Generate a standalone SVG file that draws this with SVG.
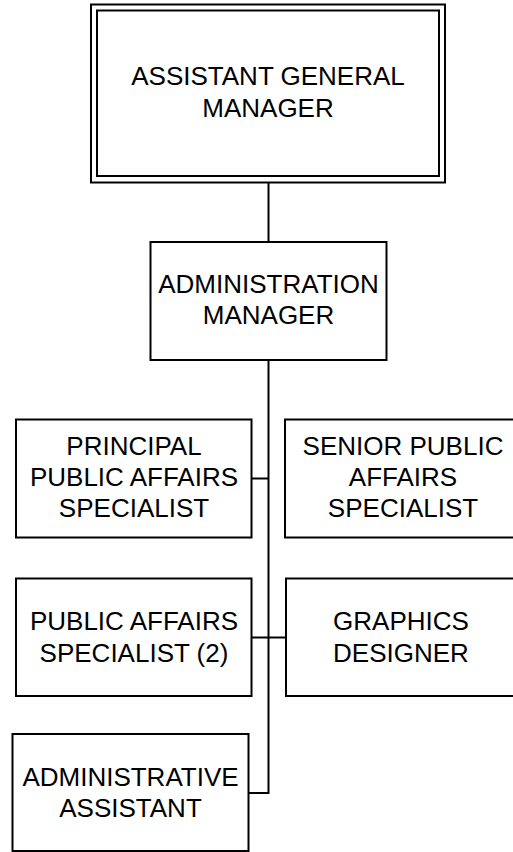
<svg xmlns="http://www.w3.org/2000/svg" width="513" height="852" viewBox="0 0 513 852">
<style>
.box{fill:#fff;stroke:#000;stroke-width:2}
.t{font-family:"Liberation Sans",Arial,sans-serif;font-size:26px;fill:#000;text-anchor:middle}
.c{fill:none;stroke:#000;stroke-width:2}
</style>
<rect width="513" height="852" fill="#fff"/>
<g id="connectors">
<line class="c" x1="268.5" y1="183" x2="268.5" y2="242"/>
<polyline class="c" points="268.5,360 268.5,793 248.5,793"/>
<line class="c" x1="251.5" y1="478.5" x2="268.5" y2="478.5"/>
<line class="c" x1="251.5" y1="637.5" x2="286" y2="637.5"/>
</g>
<g id="agm">
<rect class="box" x="91" y="4.5" width="354" height="178"/>
<rect class="box" x="97" y="10.5" width="342" height="165.5"/>
<text class="t" x="268" y="85">ASSISTANT GENERAL</text>
<text class="t" x="268" y="117">MANAGER</text>
</g>
<g id="adminmgr">
<rect class="box" x="150.5" y="242" width="236" height="118"/>
<text class="t" x="268.5" y="293">ADMINISTRATION</text>
<text class="t" x="268.5" y="324">MANAGER</text>
</g>
<g id="principal">
<rect class="box" x="16" y="419.5" width="235.5" height="118"/>
<text class="t" x="134" y="455">PRINCIPAL</text>
<text class="t" x="134" y="486">PUBLIC AFFAIRS</text>
<text class="t" x="134" y="517">SPECIALIST</text>
</g>
<g id="senior">
<rect class="box" x="285" y="419.5" width="236" height="118"/>
<text class="t" x="403" y="455">SENIOR PUBLIC</text>
<text class="t" x="403" y="486">AFFAIRS</text>
<text class="t" x="403" y="517">SPECIALIST</text>
</g>
<g id="pas">
<rect class="box" x="16" y="578.5" width="235.5" height="117.5"/>
<text class="t" x="134" y="630">PUBLIC AFFAIRS</text>
<text class="t" x="134" y="662">SPECIALIST (2)</text>
</g>
<g id="graphics">
<rect class="box" x="286" y="578.5" width="236" height="117.5"/>
<text class="t" x="401" y="630">GRAPHICS</text>
<text class="t" x="401" y="662">DESIGNER</text>
</g>
<g id="adminasst">
<rect class="box" x="12.5" y="734" width="236" height="117"/>
<text class="t" x="130.5" y="786">ADMINISTRATIVE</text>
<text class="t" x="130.5" y="817">ASSISTANT</text>
</g>
</svg>
